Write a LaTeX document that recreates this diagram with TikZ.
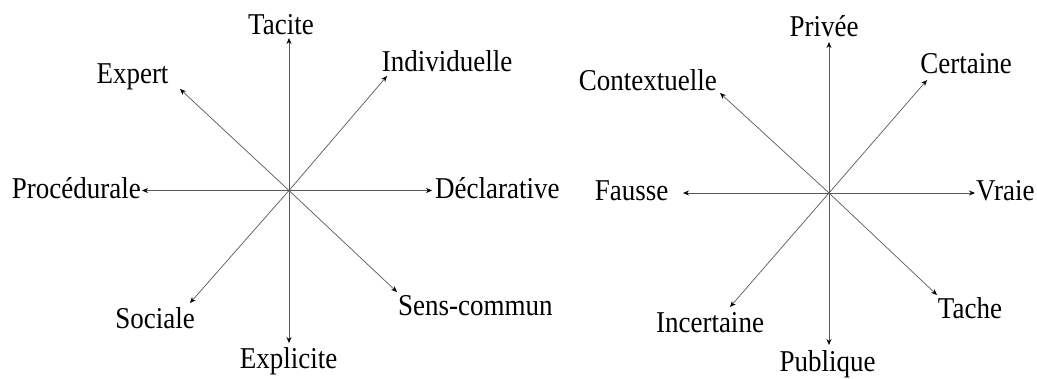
\documentclass[tikz,border=0pt]{standalone}
\usepackage{fontspec}
\setmainfont{Liberation Serif}
\usetikzlibrary{arrows.meta}
\newcommand{\stretchtxt}[1]{\scalebox{1}[1.12]{#1}}
\tikzset{
  axis/.style={draw=black!65, line width=0.7pt, -{Stealth[length=6pt,width=5pt,black]}},
  lbl/.style={inner sep=0pt, font=\fontsize{27}{30}\selectfont},
}
\begin{document}
\begin{tikzpicture}[x=1pt,y=-1pt]
\useasboundingbox (0,0) rectangle (1037,378);
% left chart
\coordinate (L) at (289,190.5);
\coordinate (tT) at (289,38);
\coordinate (tI) at (387,76);
\coordinate (tE) at (180,89);
\coordinate (tP) at (142,190.5);
\coordinate (tD) at (432,190.5);
\coordinate (tS) at (397,292);
\coordinate (tSo) at (190,303);
\coordinate (tX) at (289,343);
\node[lbl, anchor=base] (Tacite) at (281,34) {\stretchtxt{Tacite}};
\node[lbl, anchor=base] (Indiv) at (447,71) {\stretchtxt{Individuelle}};
\node[lbl, anchor=base] (Expert) at (132.5,83) {\stretchtxt{Expert}};
\node[lbl, anchor=base east] (Proc) at (141,198) {\stretchtxt{Procédurale}};
\node[lbl, anchor=base west] (Decl) at (435,198) {\stretchtxt{Déclarative}};
\node[lbl, anchor=base west] (Sens) at (398,315) {\stretchtxt{Sens-commun}};
\node[lbl, anchor=base] (Sociale) at (155,328) {\stretchtxt{Sociale}};
\node[lbl, anchor=base] (Expl) at (288.5,368) {\stretchtxt{Explicite}};
\foreach \t in {tT,tI,tE,tP,tD,tS,tSo,tX} \draw[axis] (L) -- (\t);
% right chart
\coordinate (R) at (829,193);
\coordinate (rP) at (829,42);
\coordinate (rC) at (927,80);
\coordinate (rX) at (720,93);
\coordinate (rF) at (683,193);
\coordinate (rV) at (975,193);
\coordinate (rT) at (937,295);
\coordinate (rI) at (730,307);
\coordinate (rPu) at (829,345);
\node[lbl, anchor=base] (Privee) at (824,36) {\stretchtxt{Privée}};
\node[lbl, anchor=base] (Certaine) at (966,73) {\stretchtxt{Certaine}};
\node[lbl, anchor=base east] (Context) at (717,90) {\stretchtxt{Contextuelle}};
\node[lbl, anchor=base] (Fausse) at (631.5,200) {\stretchtxt{Fausse}};
\node[lbl, anchor=base west] (Vraie) at (976,200) {\stretchtxt{Vraie}};
\node[lbl, anchor=base] (Tache) at (970,318) {\stretchtxt{Tache}};
\node[lbl, anchor=base] (Incert) at (710,332) {\stretchtxt{Incertaine}};
\node[lbl, anchor=base] (Publique) at (827.5,371) {\stretchtxt{Publique}};
\foreach \t in {rP,rC,rX,rF,rV,rT,rI,rPu} \draw[axis] (R) -- (\t);
\end{tikzpicture}
\end{document}
